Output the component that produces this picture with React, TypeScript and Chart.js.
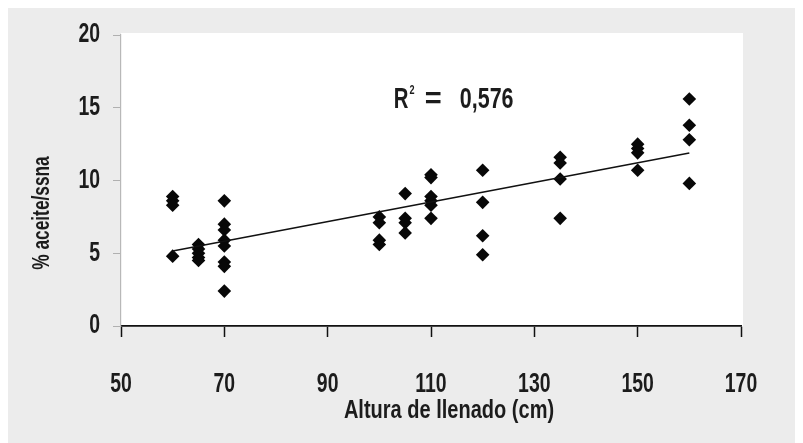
import React, { useEffect, useRef } from "react";
import { Chart, registerables } from "chart.js";

Chart.register(...registerables);

// ---- data ----
const fillHeights = [
  60, 60, 60, 60,
  65, 65, 65, 65, 65,
  70, 70, 70, 70, 70, 70, 70, 70,
  100, 100, 100, 100,
  105, 105, 105, 105,
  110, 110, 110, 110, 110, 110,
  120, 120, 120, 120,
  135, 135, 135, 135,
  150, 150, 150, 150,
  160, 160, 160, 160,
];
const oilPercent = [
  8.9, 8.6, 8.3, 4.8,
  5.6, 5.3, 5.0, 4.7, 4.5,
  8.6, 7.0, 6.6, 5.9, 5.5, 4.4, 4.1, 2.4,
  7.5, 7.1, 5.9, 5.6,
  9.1, 7.4, 7.1, 6.4,
  10.4, 10.2, 8.9, 8.6, 8.3, 7.4,
  10.7, 8.5, 6.2, 4.9,
  11.6, 11.2, 10.1, 7.4,
  12.5, 12.2, 11.9, 10.7,
  15.6, 13.8, 12.8, 9.8,
];
const xTickValues = [50, 70, 90, 110, 130, 150, 170];
const yTickValues = [0, 5, 10, 15, 20];
const xTitle = "Altura de llenado (cm)";
const yTitle = "% aceite/ssna";
const r2Value = "0,576";
const r2Anchor = [102.8, 15.5]; // data coords where the R² note sits

// least-squares fit of the points
function fitLine(xs: number[], ys: number[]) {
  const n = xs.length;
  const mx = xs.reduce((a, b) => a + b, 0) / n;
  const my = ys.reduce((a, b) => a + b, 0) / n;
  let sxy = 0, sxx = 0;
  for (let i = 0; i < n; i++) {
    sxy += (xs[i] - mx) * (ys[i] - my);
    sxx += (xs[i] - mx) * (xs[i] - mx);
  }
  const slope = sxy / sxx;
  return { slope, intercept: my - slope * mx };
}

const FONT = '"Liberation Sans", Arial, sans-serif';
const TEXT_COLOR = "#1c1c1c";

function drawCondensed(
  ctx: CanvasRenderingContext2D,
  text: string,
  x: number,
  y: number,
  size: number,
  align: CanvasTextAlign,
  sx = 0.72,
  rot = 0
) {
  ctx.save();
  ctx.translate(x, y);
  if (rot) ctx.rotate(rot);
  ctx.scale(sx, 1);
  ctx.font = `bold ${size}px ${FONT}`;
  ctx.textAlign = align;
  ctx.textBaseline = "middle";
  ctx.fillStyle = TEXT_COLOR;
  ctx.fillText(text, 0, 0);
  ctx.restore();
}

function measureCondensed(ctx: CanvasRenderingContext2D, text: string, size: number, sx = 0.72) {
  ctx.save();
  ctx.font = `bold ${size}px ${FONT}`;
  const w = ctx.measureText(text).width * sx;
  ctx.restore();
  return w;
}

const plotBgPlugin = {
  id: "plotBg",
  beforeDraw(chart: any) {
    const { ctx, chartArea } = chart;
    ctx.save();
    ctx.fillStyle = "#ffffff";
    ctx.fillRect(chartArea.left, chartArea.top - 2, chartArea.right - chartArea.left + 2, chartArea.bottom - chartArea.top + 2);
    ctx.restore();
  },
};

const textPlugin = {
  id: "texts",
  afterDraw(chart: any) {
    const { ctx, chartArea } = chart;
    const xs = chart.scales.x;
    const ys = chart.scales.y;
    // x tick labels
    xTickValues.forEach((v) => {
      drawCondensed(ctx, String(v), xs.getPixelForValue(v), chartArea.bottom + 59, 27, "center");
    });
    // y tick labels
    yTickValues.forEach((v) => {
      drawCondensed(ctx, String(v), chartArea.left - 21, ys.getPixelForValue(v), 27, "right");
    });
    // axis titles
    drawCondensed(ctx, xTitle, 441, chartArea.bottom + 85, 26, "center", 0.77);
    drawCondensed(ctx, yTitle, 34, 205, 24, "center", 0.72, -Math.PI / 2);
    // R² note
    const x0 = xs.getPixelForValue(r2Anchor[0]);
    const y0 = ys.getPixelForValue(r2Anchor[1]);
    drawCondensed(ctx, "R", x0, y0, 29, "left", 0.7);
    const wR = measureCondensed(ctx, "R", 29, 0.7);
    drawCondensed(ctx, "2", x0 + wR + 1, y0 - 10, 13, "left", 0.7);
    drawCondensed(ctx, "=", x0 + 31, y0, 29, "left", 1.0);
    drawCondensed(ctx, r2Value, x0 + 66, y0, 29, "left", 0.74);
  },
};

export default function App() {
  const canvasRef = useRef<HTMLCanvasElement | null>(null);

  useEffect(() => {
    const canvas = canvasRef.current;
    if (!canvas) return;
    const points = fillHeights.map((x, i) => ({ x, y: oilPercent[i] }));
    const { slope, intercept } = fitLine(fillHeights, oilPercent);
    const xMin = Math.min(...fillHeights);
    const xMax = Math.max(...fillHeights);
    const trend = [
      { x: xMin, y: intercept + slope * xMin },
      { x: xMax, y: intercept + slope * xMax },
    ];

    const chart = new Chart(canvas, {
      type: "scatter",
      data: {
        datasets: [
          {
            type: "line",
            data: trend,
            borderColor: "#111",
            borderWidth: 1.6,
            pointRadius: 0,
            fill: false,
          } as any,
          {
            data: points,
            pointStyle: "rectRot",
            pointRadius: 6.8,
            backgroundColor: "#080808",
            borderColor: "#080808",
            borderWidth: 0,
          },
        ],
      },
      options: {
        animation: false,
        responsive: false,
        maintainAspectRatio: false,
        devicePixelRatio: 1,
        layout: { padding: { top: 27, right: 62, left: 0, bottom: 0 } },
        plugins: {
          legend: { display: false },
          tooltip: { enabled: false },
        },
        scales: {
          x: {
            type: "linear",
            min: 50,
            max: 170,
            ticks: { stepSize: 20, display: false },
            grid: {
              drawOnChartArea: false,
              drawTicks: true,
              tickLength: 11,
              tickColor: "#111",
              tickWidth: 1.5,
            },
            border: { color: "#111", width: 1.8 },
            afterFit: (s: any) => {
              s.height = 117;
            },
          },
          y: {
            type: "linear",
            min: 0,
            max: 20,
            ticks: { stepSize: 5, display: false },
            grid: {
              drawOnChartArea: false,
              drawTicks: true,
              tickLength: 8,
              tickColor: "#b0b0b0",
              tickWidth: 1,
            },
            border: { color: "#b8b8b8", width: 1.2 },
            afterFit: (s: any) => {
              s.width = 113;
            },
          },
        },
      },
      plugins: [plotBgPlugin, textPlugin],
    });
    return () => chart.destroy();
  }, []);

  return (
    <div style={{ width: 795, height: 435, background: "#ececec" }}>
      <canvas ref={canvasRef} width={795} height={435} style={{ display: "block" }} />
    </div>
  );
}
